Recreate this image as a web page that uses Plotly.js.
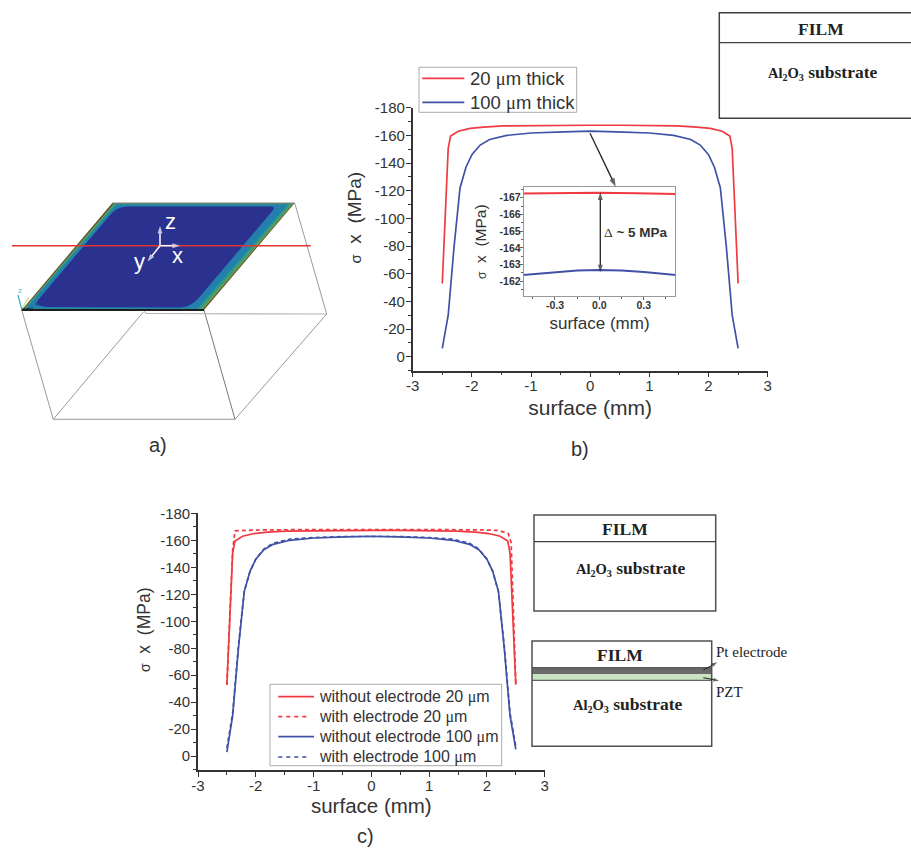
<!DOCTYPE html>
<html>
<head>
<meta charset="utf-8">
<script src="https://cdn.plot.ly/plotly-3.0.1.min.js"></script>
<style>html,body{margin:0;padding:0;background:#fff}#chart{width:911px;height:848px}</style>
</head>
<body>
<div id="chart"></div>
<script>
// ---------- data ----------
const redThinX  = [-2.5,-2.4,-2.36,-2.23,-2.03,-1.8,-1.47,-1,-0.5,0,0.5,1,1.47,1.8,2.03,2.23,2.36,2.4,2.5];
const redThinY  = [-53,-150.6,-159.5,-163,-165,-166,-166.8,-167.1,-167.3,-167.3,-167.3,-167.1,-166.8,-166,-165,-163,-159.5,-150.6,-53];
const blueThickX = [-2.5,-2.4,-2.3,-2.2,-2.1,-2,-1.86,-1.7,-1.41,-1,-0.45,0,0.45,1,1.41,1.7,1.86,2,2.1,2.2,2.3,2.4,2.5];
const blueThickY = [-6,-30,-80,-122,-137,-146,-153,-157,-160,-161.7,-162.6,-163,-162.6,-161.7,-160,-157,-153,-146,-137,-122,-80,-30,-6];

const insetRedX  = [-0.52,-0.25,0,0.25,0.52];
const insetRedY  = [-167.25,-167.27,-167.3,-167.27,-167.22];
const insetBlueX = [-0.52,-0.3,-0.15,0,0.15,0.3,0.52];
const insetBlueY = [-162.38,-162.55,-162.64,-162.68,-162.64,-162.55,-162.38];

const cRedSolidX = [-2.5,-2.4,-2.36,-2.23,-2.03,-1.8,-1.47,-1,-0.5,0,0.5,1,1.47,1.8,2.03,2.23,2.36,2.4,2.5];
const cRedSolidY = [-53,-150.6,-159.5,-163,-165,-166,-166.8,-167.1,-167.3,-167.3,-167.3,-167.1,-166.8,-166,-165,-163,-159.5,-150.6,-53];
const cRedDashX  = [-2.5,-2.4,-2.36,-2,-1,0,1,2,2.2,2.37,2.42,2.5];
const cRedDashY  = [-53,-153,-167,-167.6,-168,-168.2,-168,-167.6,-167.3,-165,-158,-53];
const cBlueSolidX = [-2.5,-2.4,-2.3,-2.2,-2.1,-2,-1.86,-1.7,-1.41,-1,-0.45,0,0.45,1,1.41,1.7,1.86,2,2.1,2.2,2.3,2.4,2.5];
const cBlueSolidY = [-3,-30,-80,-122,-137,-146,-153,-157,-160,-161.7,-162.6,-163,-162.6,-161.7,-160,-157,-153,-146,-137,-122,-80,-30,-5];
const cBlueDashX  = [-2.5,-2.4,-2.3,-2.2,-2.1,-2,-1.86,-1.7,-1.41,-1,-0.45,0,0.45,1,1.41,1.7,1.86,2,2.1,2.2,2.3,2.4,2.5];
const cBlueDashY  = [-6,-32,-82,-122,-137,-146,-153.5,-157.8,-160.8,-162,-162.8,-163,-162.8,-162,-160.8,-157.8,-153.5,-146,-137,-122,-82,-32,-7];

const mainXTicks = [-3,-2,-1,0,1,2,3];
const mainXLabels = ['-3','-2','-1','0','1','2','3'];
const mainYTicks = [-180,-160,-140,-120,-100,-80,-60,-40,-20,0];
const mainYLabels = ['-180','-160','-140','-120','-100','-80','-60','-40','-20','0'];
const insetXTicks = [-0.3,0,0.3];
const insetXLabels = ['-0.3','0.0','0.3'];
const insetYTicks = [-167,-166,-165,-164,-163,-162];
const insetYLabels = ['-167','-166','-165','-164','-163','-162'];

const MU = '<span style="font-family:Liberation Serif">μ</span>';
const legendB = ['20 '+MU+'m thick','100 '+MU+'m thick'];
const legendC = ['without electrode 20 '+MU+'m','with electrode 20 '+MU+'m','without electrode 100 '+MU+'m','with electrode 100 '+MU+'m'];

// ---------- style ----------
const W = 911, H = 848;
const RED = '#ef3a42', BLUE = '#3f52a6', INK = '#333333';
const SANS = 'Liberation Sans, Arial, sans-serif', SERIF = 'Liberation Serif, Times New Roman, serif';
const NB = '\u00A0';

const line = (x,y,name,color,xa,ya,extra) => ({
  type:'scatter',mode:'lines',x,y,name,xaxis:xa,yaxis:ya,showlegend:false,cliponaxis:false,
  line:Object.assign({color,width:1.7},extra||{})
});

const data = [
  line(redThinX,redThinY,legendB[0],RED,'x','y'),
  line(blueThickX,blueThickY,legendB[1],BLUE,'x','y'),
  line(insetRedX,insetRedY,'20 inset',RED,'x2','y2',{width:2}),
  line(insetBlueX,insetBlueY,'100 inset',BLUE,'x2','y2',{width:2}),
  line(cRedSolidX,cRedSolidY,legendC[0],RED,'x3','y3'),
  line(cRedDashX,cRedDashY,legendC[1],RED,'x3','y3',{dash:'4px,3px'}),
  line(cBlueSolidX,cBlueSolidY,legendC[2],BLUE,'x3','y3'),
  line(cBlueDashX,cBlueDashY,legendC[3],BLUE,'x3','y3',{dash:'4px,3px'}),
  // section line over the model in panel a)
  line([12,310.7],[245.7,245.7],'section','#e2342f','x4','y4',{width:1.6})
];

// arrows drawn as page-axis line traces ending in an arrow marker
const arrow = (from,to,color,size,lw) => data.push({type:'scatter',mode:'lines+markers',xaxis:'x4',yaxis:'y4',showlegend:false,
  x:[from[0],to[0]],y:[from[1],to[1]],line:{color,width:lw},
  marker:{symbol:'arrow',size:[0,size],angleref:'previous',color,line:{width:0}}});

function mainAxes(x0,x1,y0,y1,anchor,standoff,titleSize){
  const xa = {domain:[x0/W,x1/W],range:[-3,3],anchor,tickmode:'array',tickvals:mainXTicks,ticktext:mainXLabels,
    ticks:'outside',ticklen:5,tickwidth:1.3,tickcolor:INK,showline:true,linecolor:INK,linewidth:1.6,ticklabelstandoff:-4,
    showgrid:false,zeroline:false,fixedrange:true,tickfont:{family:SANS,size:15,color:INK},
    minor:{tickmode:'linear',tick0:0,dtick:0.5,ticks:'outside',ticklen:3,tickwidth:1,tickcolor:INK,showgrid:false},
    title:{text:'surface (mm)',standoff,font:{family:SANS,size:titleSize,color:INK}}};
  const ya = {domain:[1-y1/H,1-y0/H],range:[10,-180],tickmode:'array',tickvals:mainYTicks,ticktext:mainYLabels,
    ticks:'outside',ticklen:5,tickwidth:1.3,tickcolor:INK,showline:true,linecolor:INK,linewidth:1.6,ticklabelstandoff:-2,
    showgrid:false,zeroline:false,fixedrange:true,tickfont:{family:SANS,size:15,color:INK},
    minor:{tickmode:'linear',tick0:0,dtick:10,ticks:'outside',ticklen:3,tickwidth:1,tickcolor:INK,showgrid:false}};
  return [xa,ya];
}
const [xB,yB] = mainAxes(412.7,767.7,107.7,370.6,'y',7,21);
const [xC,yC] = mainAxes(198,544.7,513.3,769.7,'y3',6,20.5);
yC.anchor='x3'; yB.anchor='x';

const xIn = {domain:[523.7/W,675.3/W],range:[-0.511,0.513],anchor:'y2',tickmode:'array',tickvals:insetXTicks,ticktext:insetXLabels,
  ticks:'outside',ticklen:3,tickwidth:1,tickcolor:'#666',showline:true,mirror:true,linecolor:'#999',linewidth:1,ticklabelstandoff:-4,
  showgrid:false,zeroline:false,fixedrange:true,tickfont:{family:SANS,size:10.5,color:INK,weight:'bold'},
  minor:{tickmode:'linear',tick0:0,dtick:0.15,ticks:'outside',ticklen:2,tickwidth:1,tickcolor:'#666',showgrid:false},
  title:{text:'surface (mm)',standoff:7,font:{family:SANS,size:17,color:INK}}};
const yIn = {domain:[1-296/H,1-187.3/H],range:[-161.12,-167.62],anchor:'x2',tickmode:'array',tickvals:insetYTicks,ticktext:insetYLabels,
  ticks:'outside',ticklen:3,tickwidth:1,tickcolor:'#666',showline:true,mirror:true,linecolor:'#999',linewidth:1,ticklabelstandoff:-3,
  showgrid:false,zeroline:false,fixedrange:true,tickfont:{family:SANS,size:10.5,color:INK,weight:'bold'},
  minor:{tickmode:'linear',tick0:-167,dtick:0.5,ticks:'outside',ticklen:2,tickwidth:1,tickcolor:'#666',showgrid:false},
  title:{text:'<span style="font-size:12px">σ</span>'+NB+NB+'x'+NB+NB+'(MPa)',standoff:9,font:{family:SANS,size:15.5,color:INK}}};

// page-sized hidden axes used for the schematic drawings
const xPage = {domain:[0,1],range:[0,W],visible:false,fixedrange:true,anchor:'y4'};
const yPage = {domain:[0,1],range:[H,0],visible:false,fixedrange:true,anchor:'x4'};

const shapes = [];
const poly = (pts,fill) => shapes.push({type:'path',xref:'x4',yref:'y4',layer:'below',
  path:'M'+pts.map(p=>p.join(',')).join(' L')+' Z',fillcolor:fill,line:{width:0}});
const seg = (a,b,color,lw,dash) => shapes.push({type:'line',xref:'x4',yref:'y4',layer:'below',x0:a[0],y0:a[1],x1:b[0],y1:b[1],line:{color,width:lw,dash:dash||'solid'}});
const rect = (x0,y0,x1,y1,fill,lineColor,lw) => shapes.push({type:'rect',xref:'x4',yref:'y4',layer:'below',x0,y0,x1,y1,
  fillcolor:fill||'rgba(0,0,0,0)',line:{color:lineColor||fill,width:lw===undefined?0:lw}});

// panel a) wire frame
const WIRE = '#9a9a9a';
seg([21.7,310],[53.3,419.3],WIRE,1);
seg([53.3,419.3],[235,419.3],WIRE,1);
seg([235,419.3],[326.7,314],WIRE,1);
seg([326.7,314],[294.7,203],WIRE,1);
seg([204,310],[235,419.3],'#777',1);
seg([53.3,419.3],[143.3,312],WIRE,1);
seg([143.3,310],[146,313.5],'#b5b5b5',1.2);
seg([146,313.5],[326.7,314],'#b5b5b5',1.2);
// panel a) contour plate
poly([[21.7,310],[204,310],[294.7,203],[112.3,203]],'#5e4a35');
poly([[23.2,309.5],[203,309.5],[293.5,203.5],[113.8,203.5]],'#6f9b45');
poly([[24.2,309],[201,309],[291.5,204],[114.8,204]],'#2f9d86');
poly([[25.7,308.7],[197.5,308.7],[288,204.5],[116.3,204.5]],'#2380ad');
shapes.push({type:'path',xref:'x4',yref:'y4',layer:'below',
  path:'M48,307 Q33,306 38,300 L108.6,216.7 Q116,206.5 128,206.5 L270,206.5 Q277,206 271.5,212 L198.7,298 Q191,307 180,307.5 Z',
  fillcolor:'#2b318f',line:{width:0}});
seg([21.7,310],[204,310],'#1d1d1d',1.8);
seg([112.3,203],[294.7,203],'#7d8a8a',1);
// small triad at the plate corner
seg([21.7,309],[18,295],'#39a9e0',1.2);
seg([21.7,309],[29,297],'#c7d25a',1);
seg([21.7,309],[33,308],'#1d3a4a',1);

// schematics
rect(719.3,12.7,930,118.3,null,'#404040',1.5);
seg([719.3,42.7],[930,42.7],'#404040',1.3);
rect(534,515,715.7,611,null,'#505050',1.5);
seg([534,541.7],[715.7,541.7],'#404040',1.2);
rect(532,667.7,711.7,674.3,'#6a6a6a');
rect(532,674.3,711.7,680.3,'#c9e4c2');
rect(532,641,711.7,746.3,null,'#505050',1.5);
seg([532,667.7],[711.7,667.7],'#404040',1);
seg([532,680.3],[711.7,680.3],'#404040',1);

// legend boxes
rect(419,67.3,576.7,112.3,'#ffffff','#aaaaaa',1);
seg([422.3,78.3],[464.3,78.3],RED,1.7);
seg([422.3,102.3],[464.3,102.3],BLUE,1.7);
rect(270,684.3,501.7,765.7,'#ffffff','#aaaaaa',1);
seg([278.3,696.7],[314,696.7],RED,1.7);
seg([278.3,716.7],[310,716.7],RED,1.7,'4px,4px');
seg([278.3,736.7],[314,736.7],BLUE,1.7);
seg([278.3,757],[310,757],BLUE,1.7,'4px,4px');

// ---------- text ----------
const annotations = [];
const txt = (text,x,y,size,o) => annotations.push(Object.assign({text,x,y,xref:'x4',yref:'y4',showarrow:false,
  xanchor:'center',yanchor:'middle',font:{family:SANS,size,color:INK}},o||{}));
const serifB = s => ({font:{family:SERIF,size:s,color:'#222',weight:'bold'}});
const substrate = '<span style="font-size:14.5px">Al<sub>2</sub>O<sub>3</sub></span> substrate';

txt(legendB[0],467.7,78.3,18.5,{xanchor:'left'});
txt(legendB[1],467.7,102.3,18.5,{xanchor:'left'});
legendC.forEach((t,i)=>txt(t,316.7,[696.7,716.7,736.7,757][i],16,{xanchor:'left'}));

txt('a)',158,445,20);
txt('b)',580,449,20);
txt('c)',365,836,20);

txt('<span style="font-size:15px">σ</span>'+NB+NB+'x'+NB+NB+'(MPa)',354,217.5,19,{textangle:-90});
txt('<span style="font-size:14px">σ</span>'+NB+NB+'x'+NB+NB+'(MPa)',144,630,17.5,{textangle:-90});

txt('<span style="font-family:Liberation Serif;font-weight:normal">Δ</span> ~ 5 MPa',635.7,232.7,13.5,{font:{family:SANS,size:13.5,color:INK,weight:'bold'}});

txt('FILM',820.7,29.3,17.5,serifB(17.5));
txt(substrate,823.3,72.3,17.5,serifB(17.5));
txt('FILM',625.3,529.3,17.5,serifB(17.5));
txt(substrate,630.7,568.3,17.5,serifB(17.5));
txt('FILM',620,655,17.5,serifB(17.5));
txt(substrate,627.7,704,17.5,serifB(17.5));
txt('Pt electrode',714,652.3,15,{xanchor:'left',font:{family:SERIF,size:15,color:'#222'}});
txt('PZT',714,691.7,15,{xanchor:'left',font:{family:SERIF,size:15,color:'#222'}});

// white axes triad on the plate
txt('z',170,221,22,{font:{family:SANS,size:22,color:'#fff'}});
txt('x',177,255,22,{font:{family:SANS,size:22,color:'#fff'}});
txt('y',139.5,261,22,{font:{family:SANS,size:22,color:'#fff'}});
arrow([160,245.7],[160,226],'#fff',8,1.5);
arrow([160,245.7],[180,245.7],'#fff',8,1.5);
arrow([160,245.7],[147.5,261.5],'#fff',8,1.5);
txt('z',20,290.5,8,{font:{family:SANS,size:8,color:'#59bdea'}});
txt('x',36.5,303,8,{font:{family:SANS,size:8,color:'#1d4a66'}});

arrow([590,133.3],[615.7,186.7],'#222',9,1.3);
arrow([600.3,232],[600.3,192.3],'#222',8,1.3);
arrow([600.3,232],[600.3,272.3],'#222',8,1.3);
arrow([703.3,670],[717.3,662.3],'#222',6,1);
arrow([703.3,677.7],[719,680.7],'#222',6,1);

const layout = {
  width:W,height:H,margin:{l:0,r:0,t:0,b:0,pad:0},
  paper_bgcolor:'#fff',plot_bgcolor:'rgba(0,0,0,0)',
  font:{family:SANS,color:INK},hovermode:false,showlegend:false,
  xaxis:xB,yaxis:yB,xaxis2:xIn,yaxis2:yIn,xaxis3:xC,yaxis3:yC,xaxis4:xPage,yaxis4:yPage,
  shapes,annotations
};
Plotly.newPlot('chart',data,layout,{displayModeBar:false,responsive:false});
</script>
</body>
</html>
